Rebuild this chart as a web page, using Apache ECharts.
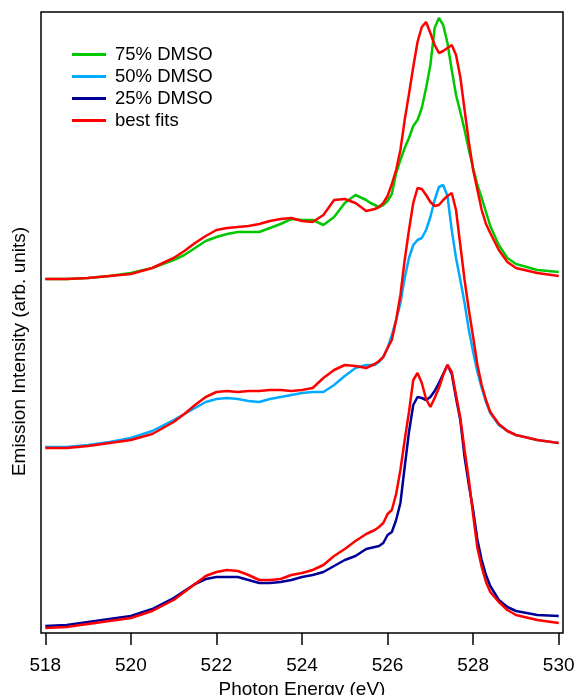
<!DOCTYPE html>
<html>
<head>
<meta charset="utf-8">
<script src="https://cdn.jsdelivr.net/npm/echarts@6/dist/echarts.min.js"></script>
<style>
html,body{margin:0;padding:0;background:#fff;}
#chart{width:575px;height:695px;}
</style>
</head>
<body>
<div id="chart"></div>
<script>
// Photon energy grid (eV)
const energy = [518,518.5,519,519.5,520,520.5,521,521.25,521.5,521.75,522,522.25,522.5,522.75,523,523.25,523.5,523.75,524,524.25,524.5,524.75,525,525.25,525.5,
  525.6,525.7,525.8,525.9,526,526.1,526.2,526.3,526.4,526.5,526.6,526.7,526.8,526.9,527,527.1,527.2,527.3,527.4,527.5,527.6,527.7,527.8,527.9,528,528.1,528.2,528.3,528.4,
  528.6,528.8,529,529.5,530];

// Emission intensity (arb. units, vertically offset traces)
const dmso75 = [354,354,355,357,360,365,373,378,385,392,396,399,401,401,401,405,409,414,413,413,408,416,430,438,433,
  430,428,426,428,432,439,460,473,485,495,507,513,525,545,568,605,615,608,590,563,538,521,503,483,465,448,435,421,407,
  388,375,369,363,361];
const fit75 = [354,354,355,357,359,365,375,382,390,397,403,405,406,407,409,412,414,415,412,411,418,433,434,430,422,
  423,424,426,430,437,449,463,483,513,539,566,591,606,611,600,588,580,582,585,588,578,556,523,491,463,443,423,409,400,
  383,371,365,360,357];
const dmso50 = [186,186,188,191,195,202,213,219,225,231,234,235,234,232,231,234,236,238,240,241,241,248,257,265,268,
  268,268,271,276,285,298,313,330,355,375,388,393,395,403,416,433,446,448,437,403,375,353,330,303,281,261,245,231,220,
  208,202,198,193,190];
const fit50 = [185,185,187,190,193,199,211,219,228,236,241,242,241,242,242,243,243,242,243,245,255,263,268,267,265,
  267,269,272,276,285,293,313,338,373,403,430,445,444,438,431,427,428,433,437,440,423,388,353,323,296,268,248,233,221,
  209,202,198,193,190];
const dmso25 = [7,8,11,14,17,24,35,42,49,54,56,56,56,53,50,50,51,53,56,58,61,67,73,77,84,
  85,86,87,90,98,101,113,130,166,201,228,236,235,233,236,242,250,259,268,259,235,213,176,148,123,93,73,58,47,
  33,26,22,18,17];
const fit25 = [5,6,9,12,15,22,33,41,49,57,61,63,62,58,53,53,54,58,60,63,68,77,84,92,99,
  101,103,106,110,119,123,139,163,193,221,253,260,250,234,226,235,245,258,268,261,238,215,183,153,118,85,66,51,41,
  31,23,18,13,10];

const xTicks = [518,520,522,524,526,528,530];
const seriesNames = ['75% DMSO','50% DMSO','25% DMSO','best fits'];

const pair = arr => energy.map((e,i)=>[e,arr[i]]);
const font = "'Liberation Sans', Arial, Helvetica, sans-serif";

function line(name, arr, color){
  return {name, type:'line', data:pair(arr), showSymbol:false, symbol:'none',
    lineStyle:{color, width:2.5}, itemStyle:{color}, emphasis:{disabled:true}};
}

const chart = echarts.init(document.getElementById('chart'), null, {renderer:'canvas'});
chart.setOption({
  animation:false,
  backgroundColor:'#fff',
  grid:{left:41, right:12, top:12, bottom:62, show:true, borderColor:'#000', borderWidth:1.5,
    backgroundColor:'transparent', containLabel:false, outerBoundsMode:'none'},
  legend:{
    data:seriesNames, orient:'vertical', left:67, top:40, icon:'rect', itemWidth:34, itemHeight:3, itemGap:3,
    textStyle:{fontFamily:font, fontSize:18.5, color:'#000', padding:[0,0,0,4]}
  },
  xAxis:{
    type:'value', min:517.9, max:530.1, offset:4,
    axisLine:{show:false},
    axisTick:{show:true, length:12, lineStyle:{color:'#000', width:1.5}, customValues:xTicks},
    axisLabel:{color:'#000', fontFamily:font, fontSize:19, margin:19, customValues:xTicks},
    splitLine:{show:false},
    name:'Photon Energy (eV)', nameLocation:'middle', nameGap:40,
    nameTextStyle:{fontFamily:font, fontSize:19, color:'#000'}
  },
  yAxis:{
    type:'value', min:0, max:621,
    axisLine:{show:false}, axisTick:{show:false}, axisLabel:{show:false}, splitLine:{show:false},
    name:'Emission Intensity (arb. units)', nameLocation:'middle', nameGap:12,
    nameTextStyle:{fontFamily:font, fontSize:19, color:'#000', padding:[0,58,0,0]}
  },
  series:[
    line('75% DMSO', dmso75, '#00c800'),
    line('50% DMSO', dmso50, '#00aaff'),
    line('25% DMSO', dmso25, '#000099'),
    line('best fits', fit75, '#ff0000'),
    line('best fits', fit50, '#ff0000'),
    line('best fits', fit25, '#ff0000')
  ]
});
</script>
</body>
</html>
